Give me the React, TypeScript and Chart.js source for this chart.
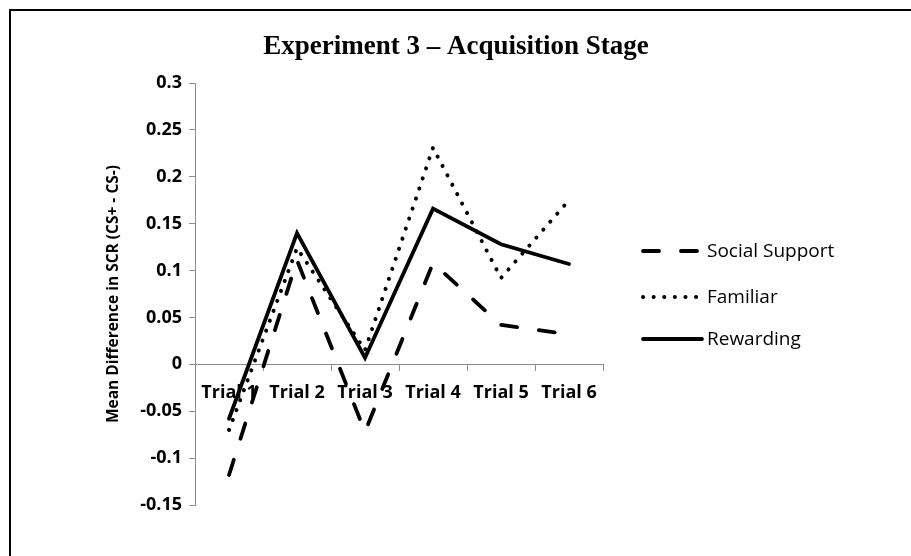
import React, { useEffect, useRef } from "react";
import { Chart, registerables } from "chart.js";

Chart.register(...registerables);

const categories = ["Trial 1", "Trial 2", "Trial 3", "Trial 4", "Trial 5", "Trial 6"];
const socialSupport = [-0.118, 0.111, -0.072, 0.108, 0.042, 0.032];
const familiar = [-0.07, 0.124, 0.015, 0.231, 0.092, 0.175];
const rewarding = [-0.058, 0.14, 0.007, 0.166, 0.128, 0.107];
const seriesNames = ["Social Support", "Familiar", "Rewarding"];
const yMin = -0.15;
const yMax = 0.3;
const yStep = 0.05;
const titleText = "Experiment 3 \u2013 Acquisition Stage";
const yTitle = "Mean Difference in SCR (CS+ - CS-)";

const decorPlugin = {
  id: "decor",
  afterDraw(chart: any) {
    const { ctx, chartArea } = chart;
    ctx.save();
    // title
    ctx.fillStyle = "#000";
    ctx.font = "bold 27px 'Liberation Serif'";
    ctx.textAlign = "center";
    ctx.textBaseline = "middle";
    ctx.fillText(titleText, 456, 47);
    // legend
    const rows = [251, 297, 339];
    const x0 = chartArea.right + 40;
    const x1 = x0 + 59;
    chart.data.datasets.forEach((ds: any, i: number) => {
      const y = rows[i];
      ctx.beginPath();
      ctx.lineWidth = ds.borderWidth;
      ctx.strokeStyle = ds.borderColor;
      ctx.lineCap = ds.borderCapStyle || "butt";
      ctx.setLineDash(ds.borderDash || []);
      ctx.moveTo(x0, y);
      ctx.lineTo(x1, y);
      ctx.stroke();
      ctx.setLineDash([]);
      ctx.fillStyle = "#000";
      ctx.font = "19px 'Open Sans'";
      ctx.textBaseline = "middle";
      ctx.textAlign = "left";
      ctx.fillText(ds.label, x1 + 5, y + 1);
    });
    ctx.restore();
  },
};

export default function App() {
  const ref = useRef<HTMLCanvasElement>(null);
  useEffect(() => {
    if (!ref.current) return;
    const chart = new Chart(ref.current, {
      type: "line",
      data: {
        labels: categories,
        datasets: [
          {
            label: seriesNames[0],
            data: socialSupport,
            borderColor: "#000",
            borderWidth: 3.8,
            borderDash: [16, 22],
            borderCapStyle: "round",
            pointRadius: 0,
            tension: 0,
          },
          {
            label: seriesNames[1],
            data: familiar,
            borderColor: "#000",
            borderWidth: 4,
            borderDash: [0.1, 10.5],
            borderCapStyle: "round",
            pointRadius: 0,
            tension: 0,
          },
          {
            label: seriesNames[2],
            data: rewarding,
            borderColor: "#000",
            borderWidth: 3.8,
            borderCapStyle: "round",
            borderJoinStyle: "miter",
            pointRadius: 0,
            tension: 0,
          },
        ],
      },
      options: {
        animation: false,
        responsive: false,
        devicePixelRatio: 1,
        layout: { padding: { left: 100, right: 308, top: 83, bottom: 51 } },
        plugins: {
          legend: { display: false },
          tooltip: { enabled: false },
          title: { display: false },
        },
        scales: {
          x: {
            type: "category",
            position: { y: 0 } as any,
            offset: true,
            grid: {
              offset: true,
              drawOnChartArea: false,
              drawTicks: true,
              tickLength: 6,
              color: "#8c8c8c",
            },
            border: { display: true, color: "#8c8c8c", width: 1 },
            ticks: {
              color: "#000",
              padding: 12,
              maxRotation: 0,
              autoSkip: false,
              font: { family: "'Open Sans'", size: 18, weight: "bold" },
            },
          },
          y: {
            min: yMin,
            max: yMax,
            grid: {
              drawOnChartArea: false,
              drawTicks: true,
              tickLength: 6,
              color: "#8c8c8c",
            },
            border: { display: true, color: "#8c8c8c", width: 1 },
            ticks: {
              stepSize: yStep,
              color: "#000",
              padding: 7,
              font: { family: "'Open Sans'", size: 18, weight: "bold" },
              callback: (v: any) => String(Number(Number(v).toFixed(2))),
            },
            title: {
              display: true,
              text: yTitle,
              color: "#000",
              padding: { top: 4, bottom: 4 },
              font: { family: "'Open Sans'", size: 15.5, weight: "bold" },
            },
            afterFit: (scale: any) => {
              scale.width = 95;
            },
          },
        },
      },
      plugins: [decorPlugin],
    });
    return () => chart.destroy();
  }, []);

  return (
    <div
      style={{
        position: "fixed",
        left: 0,
        top: 0,
        width: 911,
        height: 556,
        overflow: "hidden",
        background: "#fff",
      }}
    >
      <div
        style={{
          position: "absolute",
          left: 9,
          top: 9,
          width: 1000,
          height: 1000,
          borderLeft: "2px solid #000",
          borderTop: "2px solid #000",
        }}
      />
      <canvas
        ref={ref}
        width={911}
        height={556}
        style={{ position: "absolute", left: 0, top: 0, width: 911, height: 556 }}
      />
    </div>
  );
}
